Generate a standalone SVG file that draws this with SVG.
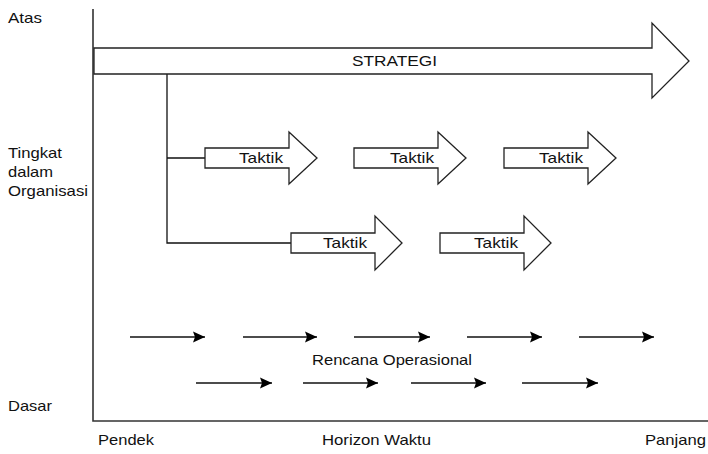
<svg xmlns="http://www.w3.org/2000/svg" width="708" height="454" viewBox="0 0 708 454">
<defs>
<marker id="ah" markerWidth="12" markerHeight="12" viewBox="0 0 12 12" refX="12" refY="6" orient="auto" markerUnits="userSpaceOnUse">
<polygon points="0,0.5 12,6 0,11.5 2,6" fill="#000"/>
</marker>
</defs>
<style>
text{font-family:"Liberation Sans",Arial,sans-serif;font-size:15px;fill:#111}
.big{fill:#fff;stroke:#222;stroke-width:1.3;stroke-linejoin:miter}
.ax{stroke:#333;stroke-width:1.6;fill:none}
.ln{stroke:#111;stroke-width:1.3;fill:none}
.op{stroke:#111;stroke-width:1.6;fill:none;marker-end:url(#ah)}
</style>
<rect width="708" height="454" fill="#fff"/>
<g id="axes">
<path class="ax" d="M93,9 V421 H708"/>
</g>
<g id="labels">
<text x="8" y="23" textLength="34" lengthAdjust="spacingAndGlyphs">Atas</text>
<text x="8" y="158" textLength="54" lengthAdjust="spacingAndGlyphs">Tingkat</text>
<text x="8" y="177" textLength="45" lengthAdjust="spacingAndGlyphs">dalam</text>
<text x="8" y="196" textLength="80" lengthAdjust="spacingAndGlyphs">Organisasi</text>
<text x="8" y="411" textLength="44" lengthAdjust="spacingAndGlyphs">Dasar</text>
<text x="98" y="445" textLength="56" lengthAdjust="spacingAndGlyphs">Pendek</text>
<text x="322" y="445" textLength="109" lengthAdjust="spacingAndGlyphs">Horizon Waktu</text>
<text x="645" y="445" textLength="61" lengthAdjust="spacingAndGlyphs">Panjang</text>
</g>
<g id="connectors">
<path class="ln" d="M167,74 V243 H291 M167,158 H205"/>
</g>
<g id="strategi">
<polygon class="big" points="94,48 652,48 652,23 689,61 652,98 652,74 94,74"/>
<text x="352" y="66" textLength="85" lengthAdjust="spacingAndGlyphs">STRATEGI</text>
</g>
<g id="taktik1">
<polygon class="big" points="205,148 289,148 289,132 317,158 289,184 289,168 205,168"/>
<text x="239" y="163" textLength="44" lengthAdjust="spacingAndGlyphs">Taktik</text>
</g>
<g id="taktik2">
<polygon class="big" points="354,148 438,148 438,132 466,158 438,184 438,168 354,168"/>
<text x="390" y="163" textLength="44" lengthAdjust="spacingAndGlyphs">Taktik</text>
</g>
<g id="taktik3">
<polygon class="big" points="504,148 588,148 588,132 616,158 588,184 588,168 504,168"/>
<text x="539" y="163" textLength="44" lengthAdjust="spacingAndGlyphs">Taktik</text>
</g>
<g id="taktik4">
<polygon class="big" points="291,233 375,233 375,216 402,243 375,270 375,253 291,253"/>
<text x="323" y="248" textLength="44" lengthAdjust="spacingAndGlyphs">Taktik</text>
</g>
<g id="taktik5">
<polygon class="big" points="440,233 524,233 524,216 551,243 524,270 524,253 440,253"/>
<text x="474" y="248" textLength="44" lengthAdjust="spacingAndGlyphs">Taktik</text>
</g>
<g id="operasional">
<path class="op" d="M130,337 H205"/>
<path class="op" d="M243,337 H317"/>
<path class="op" d="M354,337 H430"/>
<path class="op" d="M467,337 H542"/>
<path class="op" d="M579,337 H654"/>
<path class="op" d="M196,383 H272"/>
<path class="op" d="M303,383 H378"/>
<path class="op" d="M411,383 H486"/>
<path class="op" d="M522,383 H598"/>
<text x="312" y="365" textLength="160" lengthAdjust="spacingAndGlyphs">Rencana Operasional</text>
</g>
</svg>
